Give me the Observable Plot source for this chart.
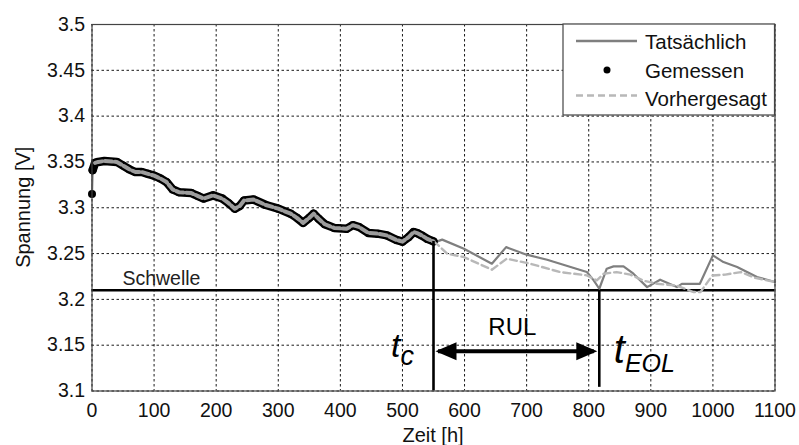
<!DOCTYPE html>
<html>
<head>
<meta charset="utf-8">
<script src="https://cdn.jsdelivr.net/npm/d3@7"></script>
<script src="https://cdn.jsdelivr.net/npm/@observablehq/plot@0.6"></script>
<style>
  body { margin: 0; background: #fff; }
  #chart { width: 799px; height: 445px; }
  svg { font-family: "Liberation Sans", Arial, sans-serif; }
</style>
</head>
<body>
<div id="chart"></div>
<script>
// ---- Data ----
const measuredHours = [0, 1, 5, 10, 20, 40, 50, 60, 70, 80, 90, 100, 110, 120, 130, 140, 160, 170, 180, 195, 210, 220, 230, 238, 245, 260, 280, 300, 320, 330, 340, 350, 357, 365, 375, 390, 410, 420, 430, 445, 460, 475, 490, 500, 510, 518, 525, 531, 540, 550];
const measuredVolts = [3.315, 3.341, 3.349, 3.350, 3.351, 3.350, 3.346, 3.342, 3.339, 3.339, 3.337, 3.335, 3.332, 3.328, 3.320, 3.317, 3.316, 3.313, 3.310, 3.3135, 3.310, 3.305, 3.299, 3.302, 3.308, 3.309, 3.303, 3.299, 3.2935, 3.289, 3.2835, 3.289, 3.2935, 3.288, 3.282, 3.278, 3.277, 3.281, 3.279, 3.2725, 3.2717, 3.2698, 3.265, 3.263, 3.268, 3.2735, 3.272, 3.2698, 3.266, 3.2633];

const actualHours = [553, 564, 599, 644, 667, 700, 733, 797, 808, 817, 829, 840, 856, 872, 894, 915, 942, 950, 979, 1000, 1017, 1039, 1071, 1100];
const actualVolts = [3.2625, 3.2652, 3.2553, 3.2389, 3.257, 3.2488, 3.2433, 3.2298, 3.2207, 3.2116, 3.2335, 3.236, 3.236, 3.228, 3.2134, 3.2215, 3.2134, 3.217, 3.217, 3.248, 3.2407, 3.2353, 3.2244, 3.219];

const predictedHours = [550, 558, 572, 599, 644, 668, 706, 754, 797, 813, 824, 845, 867, 888, 910, 942, 969, 980, 999, 1020, 1045, 1068, 1100];
const predictedVolts = [3.2633, 3.2589, 3.2498, 3.2462, 3.2324, 3.2444, 3.2389, 3.2298, 3.2262, 3.2207, 3.228, 3.2298, 3.227, 3.2205, 3.217, 3.215, 3.208, 3.208, 3.226, 3.227, 3.2298, 3.2235, 3.219];

const xTicks = [0, 100, 200, 300, 400, 500, 600, 700, 800, 900, 1000, 1100];
const yTicks = [3.1, 3.15, 3.2, 3.25, 3.3, 3.35, 3.4, 3.45, 3.5];

const threshold = 3.21;
const tc = 550;
const tcVolt = 3.2633;
const tEOL = 817;
const rulVolt = 3.1433;
const rulLabelHour = 677;
const rulLabelVolt = 3.1695;
const schwelleHour = 49;
const schwelleVolt = 3.2225;

const legendLabels = ["Tatsächlich", "Gemessen", "Vorhergesagt"];
const xLabel = "Zeit [h]";
const yLabel = "Spannung [V]";

// ---- Build tables ----
const measured = measuredHours.map((h, i) => ({h, v: measuredVolts[i]}));
const actual = measured.concat(actualHours.map((h, i) => ({h, v: actualVolts[i]})));
const predicted = predictedHours.map((h, i) => ({h, v: predictedVolts[i]}));

const leftHead = {draw(ctx) { ctx.moveTo(0, 0); ctx.lineTo(21, -9); ctx.lineTo(21, 9); ctx.closePath(); }};
const rightHead = {draw(ctx) { ctx.moveTo(0, 0); ctx.lineTo(-21, -9); ctx.lineTo(-21, 9); ctx.closePath(); }};

const plot = Plot.plot({
  width: 799,
  height: 445,
  marginLeft: 91.5,
  marginRight: 24.5,
  marginTop: 24,
  marginBottom: 54.5,
  style: {fontFamily: "Liberation Sans, Arial, sans-serif", fontSize: "18px", color: "#111", background: "#fff"},
  x: {domain: [0, 1100]},
  y: {domain: [3.1, 3.5]},
  marks: [
    Plot.gridX(xTicks, {stroke: "#000", strokeOpacity: 0.9, strokeWidth: 1, strokeDasharray: "2.5,2.5"}),
    Plot.gridY(yTicks, {stroke: "#000", strokeOpacity: 0.9, strokeWidth: 1, strokeDasharray: "2.5,2.5"}),
    Plot.axisX(xTicks, {tickSize: 0, tickPadding: 12, fontSize: 19.5, label: null, tickFormat: d => String(d)}),
    Plot.axisY(yTicks, {tickSize: 0, tickPadding: 7, fontSize: 19.5, label: null, tickFormat: d => String(d)}),
    Plot.ruleY([threshold], {stroke: "#000", strokeWidth: 2.6}),
    Plot.line(actual, {x: "h", y: "v", stroke: "#7f7f7f", strokeWidth: 2.2}),
    Plot.line(measured.slice(1), {x: "h", y: "v", stroke: "#000", strokeWidth: 8.5, strokeLinejoin: "round", strokeLinecap: "round"}),
    Plot.dot(measured, {x: "h", y: "v", r: 4, fill: "#000"}),
    Plot.line(measured.slice(2), {x: "h", y: "v", stroke: "#9c9c9c", strokeWidth: 4, strokeDasharray: "7,3"}),
    Plot.line(predicted, {x: "h", y: "v", stroke: "#b8b8b8", strokeWidth: 2.4, strokeDasharray: "7,4"}),
    Plot.ruleX([tc], {y1: 3.1, y2: tcVolt, stroke: "#000", strokeWidth: 2.6}),
    Plot.ruleX([tEOL], {y1: 3.104, y2: threshold, stroke: "#000", strokeWidth: 2.6}),
    Plot.ruleY([rulVolt], {x1: tc + 8, x2: tEOL - 8, stroke: "#000", strokeWidth: 4}),
    Plot.dot([{h: tc, v: rulVolt}], {x: "h", y: "v", symbol: leftHead, fill: "#000", stroke: "none", dx: 2}),
    Plot.dot([{h: tEOL, v: rulVolt}], {x: "h", y: "v", symbol: rightHead, fill: "#000", stroke: "none", dx: -2}),
    Plot.text([{h: rulLabelHour, v: rulLabelVolt}], {x: "h", y: "v", text: () => "RUL", fontSize: 24, fill: "#000"}),
    Plot.text([{h: schwelleHour, v: schwelleVolt}], {x: "h", y: "v", text: () => "Schwelle", fontSize: 19.5, textAnchor: "start", fill: "#222"}),
    Plot.frame({stroke: "#444", strokeWidth: 1.2})
  ]
});

document.getElementById("chart").appendChild(plot);

// ---- Extra text / legend drawn with d3 using the plot scales ----
const svg = d3.select(plot);
const sx = plot.scale("x"), sy = plot.scale("y");
const X = v => sx.apply(v), Y = v => sy.apply(v);
const font = "Liberation Sans, Arial, sans-serif";

// Axis labels
svg.append("text").attr("x", (X(0) + X(1100)) / 2).attr("y", 442).attr("text-anchor", "middle")
  .attr("font-family", font).attr("font-size", 20).attr("fill", "#111").text(xLabel);
svg.append("text").attr("transform", `translate(30,${(Y(3.1) + Y(3.5)) / 2}) rotate(-90)`).attr("text-anchor", "middle")
  .attr("font-family", font).attr("font-size", 20).attr("fill", "#111").text(yLabel);

// t_c
const tcT = svg.append("text").attr("x", X(tc) - 42).attr("y", Y(rulVolt) + 6).attr("text-anchor", "start")
  .attr("font-family", font).attr("font-style", "italic").attr("fill", "#000");
tcT.append("tspan").attr("font-size", 34).text("t");
tcT.append("tspan").attr("font-size", 27).attr("dy", 8).text("c");

// t_EOL
const teT = svg.append("text").attr("x", X(tEOL) + 15).attr("y", Y(rulVolt) + 12).attr("text-anchor", "start")
  .attr("font-family", font).attr("font-style", "italic").attr("fill", "#000");
teT.append("tspan").attr("font-size", 40).text("t");
teT.append("tspan").attr("font-size", 25).attr("dy", 9).text("EOL");

// Legend
const lg = svg.append("g");
const lx0 = 563, lx1 = X(1100), ly0 = Y(3.5), ly1 = 115;
lg.append("rect").attr("x", lx0).attr("y", ly0).attr("width", lx1 - lx0).attr("height", ly1 - ly0)
  .attr("fill", "#fff").attr("stroke", "#444").attr("stroke-width", 1.2);
lg.append("line").attr("x1", 576).attr("x2", 637).attr("y1", 41).attr("y2", 41)
  .attr("stroke", "#7f7f7f").attr("stroke-width", 2.4);
lg.append("circle").attr("cx", 607).attr("cy", 70).attr("r", 3.5).attr("fill", "#000");
lg.append("line").attr("x1", 576).attr("x2", 637).attr("y1", 95.5).attr("y2", 95.5)
  .attr("stroke", "#b8b8b8").attr("stroke-width", 2.4).attr("stroke-dasharray", "7,4");
legendLabels.forEach((t, i) => {
  lg.append("text").attr("x", 645).attr("y", [48.5, 78, 106][i]).attr("text-anchor", "start")
    .attr("font-family", font).attr("font-size", 20.5).attr("fill", "#111").text(t);
});
</script>
</body>
</html>
